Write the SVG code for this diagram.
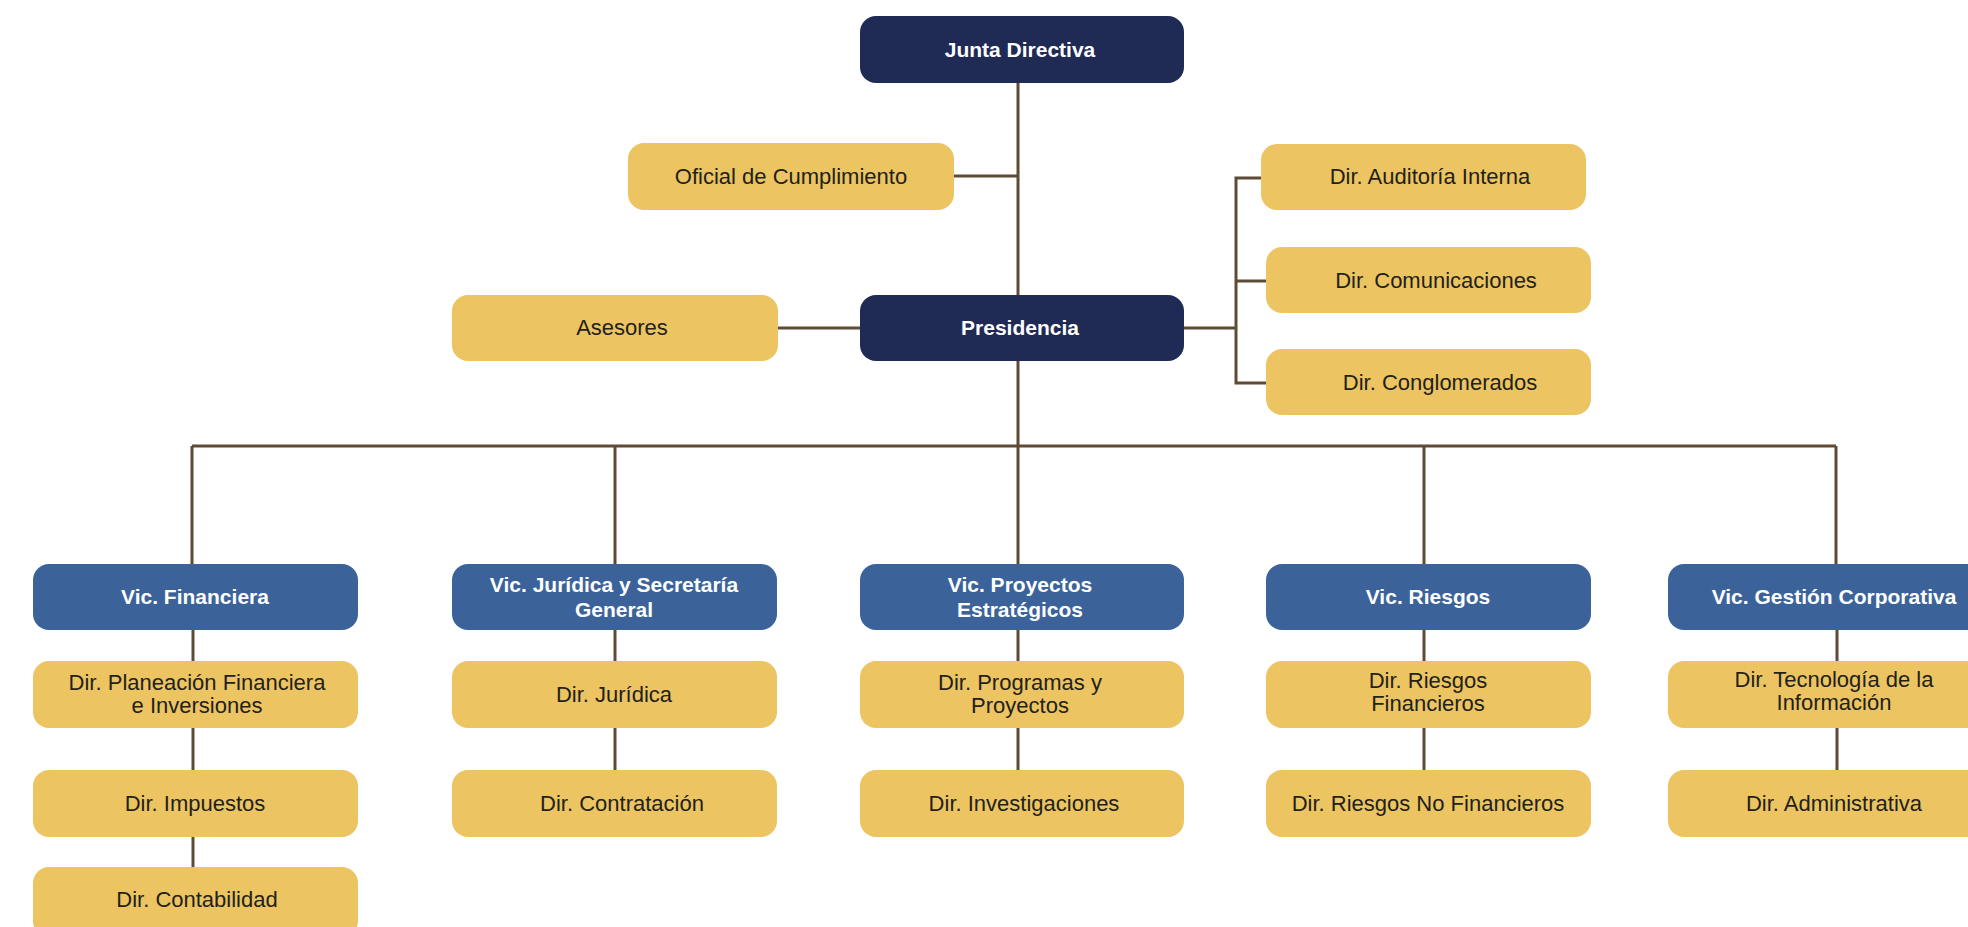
<svg xmlns="http://www.w3.org/2000/svg" width="1968" height="927" viewBox="0 0 1968 927" xml:space="preserve">
<style>
.navy{fill:#1F2A55}
.blue{fill:#3B639A}
.yel{fill:#ECC462}
.tw{fill:#FFFFFF;font-family:"Liberation Sans",Arial,sans-serif;font-weight:bold;font-size:21px;text-anchor:middle}
.td{fill:#231F1A;font-family:"Liberation Sans",Arial,sans-serif;font-size:22px;text-anchor:middle}
.ln{stroke:#5E4B35;stroke-width:3;fill:none}
</style>
<rect width="1968" height="927" fill="#FFFFFF"/>
<g id="connectors" class="ln">
<path d="M1018 83V446"/>
<path d="M954 176H1018"/>
<path d="M778 328H860"/>
<path d="M1184 328H1236"/>
<path d="M1261 178H1236V383H1266M1236 281H1266"/>
<path d="M192 446H1836"/>
<path d="M192 446V564M615 446V564M1018 446V564M1424 446V564M1836 446V564"/>
<path d="M193 630V867"/>
<path d="M615 630V770"/>
<path d="M1018 630V770"/>
<path d="M1424 630V770"/>
<path d="M1837 630V770"/>
</g>
<g id="junta"><rect class="navy" x="860" y="16" width="324" height="67" rx="16"/><text class="tw" x="1020" y="57">Junta Directiva</text></g>
<g id="oficial"><rect class="yel" x="628" y="143" width="326" height="67" rx="16"/><text class="td" x="791" y="184">Oficial de Cumplimiento</text></g>
<g id="presidencia"><rect class="navy" x="860" y="295" width="324" height="66" rx="16"/><text class="tw" x="1020" y="335">Presidencia</text></g>
<g id="asesores"><rect class="yel" x="452" y="295" width="326" height="66" rx="16"/><text class="td" x="622" y="335">Asesores</text></g>
<g id="auditoria"><rect class="yel" x="1261" y="144" width="325" height="66" rx="16"/><text class="td" x="1430" y="184">Dir.  Auditoría Interna</text></g>
<g id="comunicaciones"><rect class="yel" x="1266" y="247" width="325" height="66" rx="16"/><text class="td" x="1436" y="288">Dir. Comunicaciones</text></g>
<g id="conglomerados"><rect class="yel" x="1266" y="349" width="325" height="66" rx="16"/><text class="td" x="1440" y="390">Dir. Conglomerados</text></g>

<g id="vic-financiera"><rect class="blue" x="33" y="564" width="325" height="66" rx="16"/><text class="tw" x="195" y="604">Vic. Financiera</text></g>
<g id="dir-planeacion"><rect class="yel" x="33" y="661" width="325" height="67" rx="16"/><text class="td" x="197" y="690">Dir. Planeación Financiera</text><text class="td" x="197" y="713">e Inversiones</text></g>
<g id="dir-impuestos"><rect class="yel" x="33" y="770" width="325" height="67" rx="16"/><text class="td" x="195" y="811">Dir. Impuestos</text></g>
<g id="dir-contabilidad"><rect class="yel" x="33" y="867" width="325" height="70" rx="16"/><text class="td" x="197" y="907">Dir. Contabilidad</text></g>

<g id="vic-juridica"><rect class="blue" x="452" y="564" width="325" height="66" rx="16"/><text class="tw" x="614" y="592">Vic. Jurídica y  Secretaría</text><text class="tw" x="614" y="617">General</text></g>
<g id="dir-juridica"><rect class="yel" x="452" y="661" width="325" height="67" rx="16"/><text class="td" x="614" y="702">Dir. Jurídica</text></g>
<g id="dir-contratacion"><rect class="yel" x="452" y="770" width="325" height="67" rx="16"/><text class="td" x="622" y="811">Dir.  Contratación</text></g>

<g id="vic-proyectos"><rect class="blue" x="860" y="564" width="324" height="66" rx="16"/><text class="tw" x="1020" y="592">Vic. Proyectos</text><text class="tw" x="1020" y="617">Estratégicos</text></g>
<g id="dir-programas"><rect class="yel" x="860" y="661" width="324" height="67" rx="16"/><text class="td" x="1020" y="690">Dir. Programas y</text><text class="td" x="1020" y="713">Proyectos</text></g>
<g id="dir-investigaciones"><rect class="yel" x="860" y="770" width="324" height="67" rx="16"/><text class="td" x="1024" y="811">Dir.  Investigaciones</text></g>

<g id="vic-riesgos"><rect class="blue" x="1266" y="564" width="325" height="66" rx="16"/><text class="tw" x="1428" y="604">Vic. Riesgos</text></g>
<g id="dir-riesgos-fin"><rect class="yel" x="1266" y="661" width="325" height="67" rx="16"/><text class="td" x="1428" y="688">Dir. Riesgos</text><text class="td" x="1428" y="711">Financieros</text></g>
<g id="dir-riesgos-nofin"><rect class="yel" x="1266" y="770" width="325" height="67" rx="16"/><text class="td" x="1428" y="811">Dir.  Riesgos No Financieros</text></g>

<g id="vic-gestion"><rect class="blue" x="1668" y="564" width="330" height="66" rx="16"/><text class="tw" x="1834" y="604">Vic. Gestión Corporativa</text></g>
<g id="dir-tecnologia"><rect class="yel" x="1668" y="661" width="330" height="67" rx="16"/><text class="td" x="1834" y="687">Dir. Tecnología de la</text><text class="td" x="1834" y="710">Información</text></g>
<g id="dir-administrativa"><rect class="yel" x="1668" y="770" width="330" height="67" rx="16"/><text class="td" x="1834" y="811">Dir.  Administrativa</text></g>
</svg>
